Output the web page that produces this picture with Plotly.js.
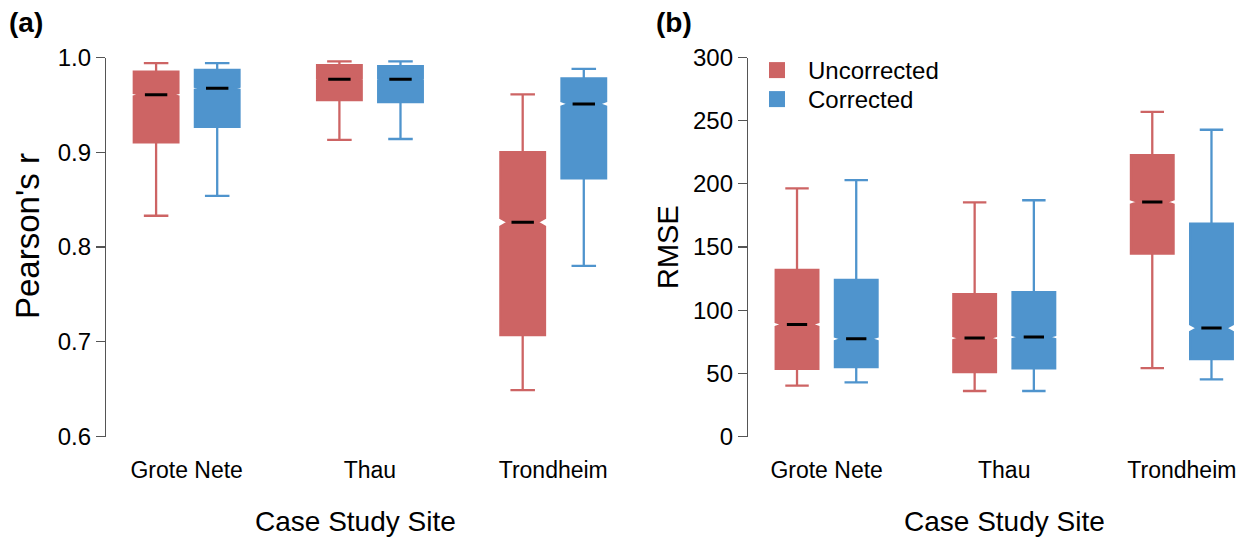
<!DOCTYPE html>
<html><head><meta charset="utf-8">
<script src="https://cdn.plot.ly/plotly-3.0.1.min.js"></script>
<style>html,body{margin:0;padding:0;background:#fff}#chart{width:1247px;height:542px}</style>
</head><body><div id="chart"></div>
<script>
// ---- data ----
const sites = ['Grote Nete', 'Thau', 'Trondheim'];
const groupNames = ['Uncorrected', 'Corrected'];

// Panel (a): Pearson's r
const rUncLower  = [0.833, 0.913, 0.649];
const rUncQ1     = [0.9105, 0.955, 0.707];
const rUncMedian = [0.9607, 0.977, 0.826];
const rUncQ3     = [0.985, 0.992, 0.900];
const rUncUpper  = [0.994, 0.996, 0.961];
const rUncNotch  = [0.0018, 0.0012, 0.0045];

const rCorLower  = [0.854, 0.914, 0.780];
const rCorQ1     = [0.9267, 0.953, 0.8725];
const rCorMedian = [0.9675, 0.977, 0.951];
const rCorQ3     = [0.987, 0.991, 0.978];
const rCorUpper  = [0.994, 0.996, 0.988];
const rCorNotch  = [0.0016, 0.0012, 0.0028];

// Panel (b): RMSE
const eUncLower  = [40.2, 36, 54.2];
const eUncQ1     = [53.6, 51, 144.8];
const eUncMedian = [88.7, 77.9, 185.6];
const eUncQ3     = [131.9, 112.6, 222.8];
const eUncUpper  = [196.4, 185.4, 257];
const eUncNotch  = [1.8, 1.6, 2.0];

const eCorLower  = [42.8, 36, 45.2];
const eCorQ1     = [55, 54, 61.3];
const eCorMedian = [77.3, 78.7, 85.8];
const eCorQ3     = [124, 114.2, 168.5];
const eCorUpper  = [203, 187, 242.8];
const eCorNotch  = [1.7, 1.6, 3.0];

// ---- styling ----
const RED = '#CD6464';
const BLUE = '#4F94CD';
const FONT = '"Liberation Sans", Arial, Helvetica, sans-serif';
const W = 1247, H = 542;

function pos(groupIdx) { return sites.map((s, i) => i * 3 + 1 + groupIdx); }

function boxTrace(color, groupIdx, lo, q1, med, q3, hi, notch, xa, ya, width) {
  return {
    type: 'box', name: groupNames[groupIdx], showlegend: false,
    x: pos(groupIdx), lowerfence: lo, q1: q1, median: med, q3: q3, upperfence: hi,
    notched: true, notchspan: notch, notchwidth: 0.17,
    width: width, whiskerwidth: 0.55, boxpoints: false,
    fillcolor: color, line: { color: color, width: 2.3 },
    xaxis: xa, yaxis: ya, hoverinfo: 'skip'
  };
}
function medTrace(groupIdx, med, xa, ya, size) {
  return {
    type: 'scatter', mode: 'markers', showlegend: false, hoverinfo: 'skip',
    x: pos(groupIdx), y: med, xaxis: xa, yaxis: ya,
    marker: { symbol: 'line-ew', size: size, color: 'black', line: { color: 'black', width: 3 } }
  };
}

const data = [
  boxTrace(RED, 0, rUncLower, rUncQ1, rUncMedian, rUncQ3, rUncUpper, rUncNotch, 'x', 'y', 0.73),
  boxTrace(BLUE, 1, rCorLower, rCorQ1, rCorMedian, rCorQ3, rCorUpper, rCorNotch, 'x', 'y', 0.73),
  boxTrace(RED, 0, eUncLower, eUncQ1, eUncMedian, eUncQ3, eUncUpper, eUncNotch, 'x2', 'y2', 0.72),
  boxTrace(BLUE, 1, eCorLower, eCorQ1, eCorMedian, eCorQ3, eCorUpper, eCorNotch, 'x2', 'y2', 0.72),
  medTrace(0, rUncMedian, 'x', 'y', 16),
  medTrace(1, rCorMedian, 'x', 'y', 16),
  medTrace(0, eUncMedian, 'x2', 'y2', 14.5),
  medTrace(1, eCorMedian, 'x2', 'y2', 14.5),
  { type: 'scatter', mode: 'markers', name: groupNames[0], x: [null], y: [null], xaxis: 'x2', yaxis: 'y2',
    legend: 'legend', marker: { symbol: 'square', size: 16, color: RED } },
  { type: 'scatter', mode: 'markers', name: groupNames[1], x: [null], y: [null], xaxis: 'x2', yaxis: 'y2',
    legend: 'legend2', marker: { symbol: 'square', size: 16, color: BLUE } }
];

const yDom = [1 - 436.5 / H, 1 - 57.5 / H];
const xTicks = sites.map((s, i) => i * 3 + 1.5);
function xAxis(domain, range) {
  return {
    domain: domain, range: range, showline: false, zeroline: false, showgrid: false,
    tickmode: 'array', tickvals: xTicks, ticktext: sites,
    ticks: 'outside', ticklen: 13, tickcolor: 'rgba(0,0,0,0)',
    tickfont: { size: 23, color: '#000', family: FONT }, fixedrange: true
  };
}
function yAxis(range, tickvals, ticktext) {
  return {
    domain: yDom, range: range, showline: true, linecolor: '#555', linewidth: 1.2,
    zeroline: false, showgrid: false, tickmode: 'array', tickvals: tickvals, ticktext: ticktext,
    ticks: 'outside', ticklen: 9, tickwidth: 1.2, tickcolor: '#555',
    tickfont: { size: 24, color: '#000', family: FONT }, fixedrange: true
  };
}
const rTicks = [0.6, 0.7, 0.8, 0.9, 1.0];
const eTicks = [0, 50, 100, 150, 200, 250, 300];

function ann(text, px, py, size, extra) {
  return Object.assign({ text: text, x: px / W, y: 1 - py / H, xref: 'paper', yref: 'paper',
    showarrow: false, xanchor: 'center', yanchor: 'middle',
    font: { size: size, color: '#000', family: FONT } }, extra || {});
}
function legendAt(py) {
  return { x: 746 / W, y: 1 - py / H, xanchor: 'left', yanchor: 'top',
    font: { size: 24, family: FONT, color: '#000' }, bgcolor: 'rgba(0,0,0,0)', itemwidth: 52 };
}

const layout = {
  width: W, height: H, margin: { l: 0, r: 0, t: 0, b: 0 },
  paper_bgcolor: '#fff', plot_bgcolor: '#fff',
  font: { family: FONT, color: '#000' },
  xaxis: xAxis([106 / W, 640 / W], [0.18, 8.92]),
  yaxis: yAxis([0.6, 1.0], rTicks, rTicks.map(v => v.toFixed(1))),
  xaxis2: Object.assign(xAxis([748 / W, 1], [0.172, 8.6]), { anchor: 'y2' }),
  yaxis2: Object.assign(yAxis([0, 300], eTicks, eTicks.map(String)), { anchor: 'x2' }),
  legend: legendAt(48),
  legend2: legendAt(77),
  annotations: [
    ann('<b>(a)</b>', 7, 22, 28, { xanchor: 'left' }),
    ann('<b>(b)</b>', 654, 22, 28, { xanchor: 'left' }),
    ann("Pearson's r", 27, 236, 33, { textangle: -90 }),
    ann('RMSE', 668, 247, 29, { textangle: -90 }),
    ann('Case Study Site', 355, 521, 28),
    ann('Case Study Site', 1004, 521, 28)
  ]
};
layout.xaxis.anchor = 'y';
layout.yaxis.anchor = 'x';

Plotly.newPlot('chart', data, layout, { displayModeBar: false, staticPlot: true });
</script>
</body></html>
